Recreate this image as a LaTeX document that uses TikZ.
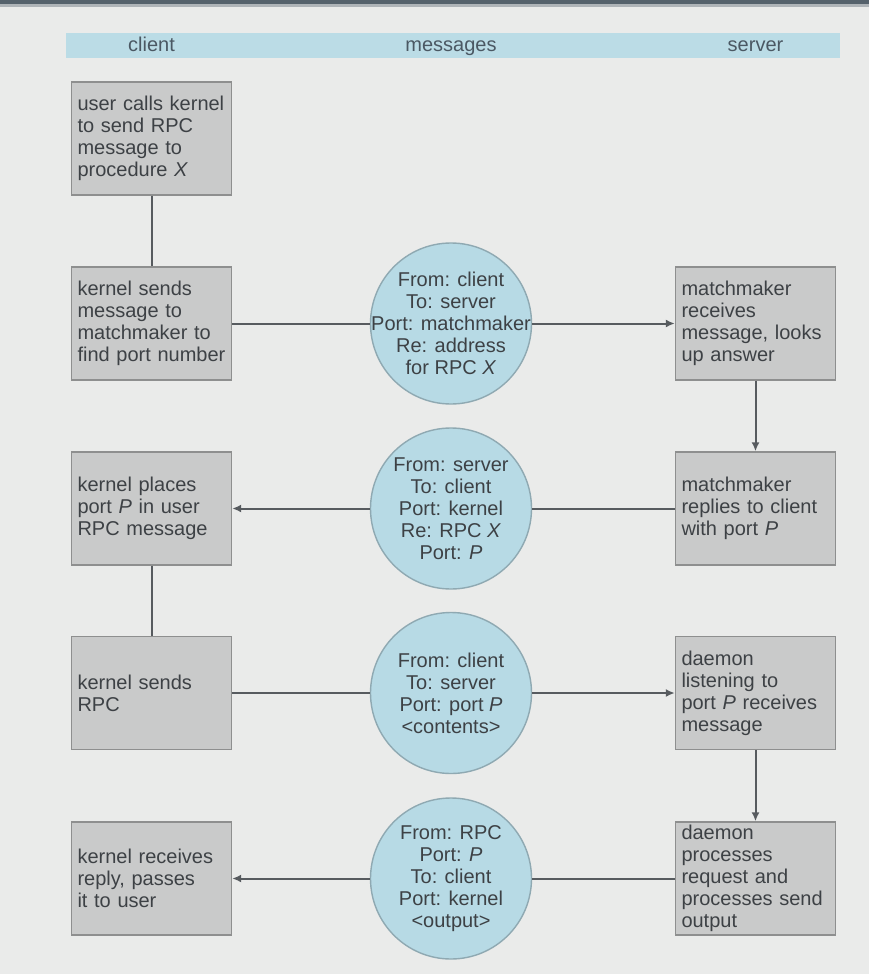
\documentclass[tikz,border=0pt]{standalone}
\usepackage{fontspec}
\setmainfont{Liberation Sans}
\usetikzlibrary{arrows.meta}
\definecolor{bggray}{HTML}{EAEBEA}
\definecolor{topline}{HTML}{56626C}
\definecolor{headblue}{HTML}{BBDCE6}
\definecolor{headtext}{HTML}{4B5863}
\definecolor{boxgray}{HTML}{C9CACA}
\definecolor{boxline}{HTML}{8E8F8F}
\definecolor{msgblue}{HTML}{B7DAE5}
\definecolor{msgline}{HTML}{8FA9B2}
\definecolor{textgray}{HTML}{3D4145}
\definecolor{linkgray}{HTML}{575B5F}
\begin{document}
\begin{tikzpicture}[x=0.5pt, y=-0.5pt, font=\fontsize{10}{11}\selectfont]
    \tikzstyle{proc} = [draw=boxline, fill=boxgray, line width=0.7pt, text width=74pt, inner xsep=3pt, inner ysep=0.5pt, minimum height=56.5pt, align=left, text=textgray, execute at begin node={\hyphenpenalty=10000}]
    \tikzstyle{msg} = [circle, draw=msgline, fill=msgblue, line width=0.7pt, minimum size=80.5pt, inner sep=0pt]
    \tikzstyle{msgtext} = [align=center, inner sep=0pt, text=textgray]
    \tikzstyle{head} = [text=headtext, text height=1.6ex, text depth=0.4ex]
    \tikzstyle{link} = [draw=linkgray, line width=1pt]
    \tikzstyle{send} = [link, -{Latex[length=4.5pt,width=4pt]}]
    % page and header
    \fill[bggray] (0,0) rectangle (869,974);
    \fill[topline] (0,0) rectangle (869,4);
    \fill[topline!40!bggray] (0,4) rectangle (869,7);
    \fill[headblue] (66,33) rectangle (840,58);
    \node[head] (hclient) at (151.5,45.5) {client};
    \node[head] (hmsg) at (451,45.5) {messages};
    \node[head] (hserver) at (755.5,45.5) {server};
    % client side
    \node[proc] (c1) at (151.5,138.5) {user calls kernel\\to send RPC\\message to\\procedure \emph{X}};
    \node[proc] (c2) at (151.5,323.5) {kernel sends\\message to\\matchmaker to\\find port number};
    \node[proc] (c3) at (151.5,508.5) {kernel places\\port \emph{P} in user\\RPC message};
    \node[proc] (c4) at (151.5,693) {kernel sends\\RPC};
    \node[proc] (c5) at (151.5,878.5) {kernel receives\\reply, passes\\it to user};
    % server side
    \node[proc] (s1) at (755.5,323.5) {matchmaker\\receives\\message, looks\\up answer};
    \node[proc] (s2) at (755.5,508.5) {matchmaker\\replies to client\\with port \emph{P}};
    \node[proc] (s3) at (755.5,693) {daemon\\listening to\\port \emph{P} receives\\message};
    \node[proc] (s4) at (755.5,878.5) {daemon\\processes\\request and\\processes send\\output};
    % messages
    \node[msg, label={[msgtext]center:{From: client\\To: server\\Port: matchmaker\\Re: address\\for RPC \emph{X}}}] (m1) at (451,323.5) {};
    \node[msg, label={[msgtext]center:{From: server\\To: client\\Port: kernel\\Re: RPC \emph{X}\\Port: \emph{P}}}] (m2) at (451,508.5) {};
    \node[msg, label={[msgtext]center:{From: client\\To: server\\Port: port \emph{P}\\<contents>}}] (m3) at (451,693) {};
    \node[msg, label={[msgtext]center:{From: RPC\\Port: \emph{P}\\To: client\\Port: kernel\\<output>}}] (m4) at (451,878.5) {};
    % connectors
    \draw[link] (c1) -- (c2);
    \draw[link] (c2) -- (m1);
    \draw[send] (m1) -- (s1);
    \draw[send] (s1) -- (s2);
    \draw[link] (s2) -- (m2);
    \draw[send] (m2) -- (c3);
    \draw[link] (c3) -- (c4);
    \draw[link] (c4) -- (m3);
    \draw[send] (m3) -- (s3);
    \draw[send] (s3) -- (s4);
    \draw[link] (s4) -- (m4);
    \draw[send] (m4) -- (c5);
\end{tikzpicture}
\end{document}
